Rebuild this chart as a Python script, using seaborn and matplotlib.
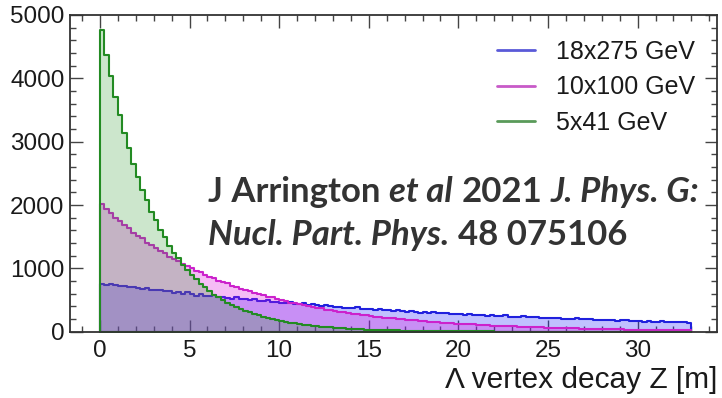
import numpy as np
import pandas as pd
import matplotlib
matplotlib.use("Agg")
import matplotlib.pyplot as plt
from matplotlib.lines import Line2D
from matplotlib.ticker import MultipleLocator
from matplotlib.colors import to_rgba
import seaborn as sns

# Lambda decay-vertex Z distributions, 0.25 m bins from 0 to 33 m
z_min, z_max, bin_width = 0.0, 33.0, 0.25

counts_18x275 = [
    758, 741, 749, 732, 716, 728, 703, 711, 684, 669, 690, 662,
    651, 664, 637, 648, 612, 629, 603, 621, 590, 571, 598, 566,
    561, 579, 547, 553, 534, 521, 541, 512, 509, 497, 515, 488,
    481, 493, 466, 474, 461, 448, 470, 441, 438, 452, 427, 432,
    418, 405, 421, 399, 396, 384, 379, 368, 381, 392, 366, 359,
    356, 347, 361, 340, 338, 329, 342, 321, 318, 325, 309, 302,
    306, 296, 311, 291, 289, 297, 281, 284, 278, 269, 281, 264,
    263, 271, 255, 258, 251, 243, 256, 238, 239, 231, 244, 228,
    226, 234, 219, 221, 216, 209, 220, 204, 206, 199, 210, 196,
    195, 202, 189, 191, 186, 179, 190, 176, 177, 183, 170, 172,
    168, 161, 172, 158, 160, 166, 154, 157, 152, 146, 155, 143,
]

counts_10x100 = [
    2012, 1941, 1873, 1795, 1752, 1677, 1631, 1560, 1509, 1472, 1405, 1371,
    1326, 1268, 1238, 1181, 1141, 1116, 1064, 1040, 1006, 958, 938, 893,
    864, 847, 806, 790, 762, 725, 712, 676, 653, 642, 609, 598,
    578, 548, 540, 511, 494, 487, 461, 454, 438, 415, 409, 387,
    374, 369, 349, 344, 332, 314, 310, 293, 283, 279, 264, 260,
    252, 238, 235, 221, 214, 212, 200, 197, 191, 181, 178, 168,
    162, 160, 151, 149, 145, 136, 134, 127, 123, 122, 115, 114,
    110, 103, 102, 96, 93, 92, 87, 86, 83, 78, 77, 73,
    72, 68, 67, 63, 61, 60, 57, 56, 55, 51, 51, 48,
    46, 46, 43, 42, 41, 39, 39, 36, 37, 34, 34, 32,
    31, 30, 29, 28, 28, 26, 25, 24, 24, 23, 22, 21,
]

counts_5x41 = [
    4765, 4372, 4041, 3698, 3418, 3131, 2897, 2644, 2447, 2239, 2078, 1893,
    1756, 1602, 1488, 1354, 1246, 1157, 1053, 980, 891, 831, 754, 702,
    646, 586, 549, 497, 457, 427, 386, 361, 328, 306, 277, 259,
    238, 215, 202, 182, 171, 154, 145, 130, 122, 110, 103, 93,
    86, 81, 72, 68, 63, 56, 53, 47, 45, 40, 38, 34,
    31, 30, 26, 25, 23, 21, 20, 17, 16, 15, 13, 13,
    12, 11, 10, 9, 8, 8, 7, 7, 6, 6, 5, 5,
    5, 4, 4, 4, 3, 3, 3, 3, 3, 2, 2, 2,
    2, 2, 2, 1, 1, 1, 1, 1, 1, 1, 1, 1,
    1, 1, 0, 1, 0, 1, 0, 0, 0, 0, 1, 0,
    0, 0, 0, 0, 0, 0, 0, 0, 0, 0, 0, 0,
]

series_labels = ["18x275 GeV", "10x100 GeV", "5x41 GeV"]
line_colors = ["#2020dd", "#cc22cc", "#238b23"]
fill_colors = ["#3030ff", "#dd11dd", "#2a9a2a"]
fill_alphas = [0.30, 0.28, 0.24]
legend_colors = ["#5a5ad8", "#c85ac8", "#5a9a5a"]

x_label = "\u039b vertex decay Z [m]"

edges = np.arange(z_min, z_max + bin_width / 2, bin_width)
centers = 0.5 * (edges[:-1] + edges[1:])

sns.set_theme(style="white")
plt.rcParams["font.family"] = ["Liberation Sans", "DejaVu Sans"]

fig = plt.figure(figsize=(7.22, 3.98), dpi=100)
ax = fig.add_axes([70 / 722, 1 - 331.7 / 398, 647 / 722, 316.7 / 398])

for counts, lc, fc, fa in zip([counts_18x275, counts_10x100, counts_5x41],
                              line_colors, fill_colors, fill_alphas):
    frame = pd.DataFrame({"z": centers, "n": counts})
    sns.histplot(data=frame, x="z", weights="n", binwidth=bin_width,
                 binrange=(z_min, z_max), element="step",
                 fill=True, facecolor=to_rgba(fc, fa), edgecolor=lc,
                 linewidth=1.5, ax=ax)

ax.set_xlim(-1.67, 34.43)
ax.set_ylim(0, 5000)
ax.set_ylabel("")
ax.xaxis.set_major_locator(MultipleLocator(5))
ax.xaxis.set_minor_locator(MultipleLocator(1))
ax.yaxis.set_major_locator(MultipleLocator(1000))
ax.yaxis.set_minor_locator(MultipleLocator(200))
ax.tick_params(which="both", direction="in", top=True, right=True,
               bottom=True, left=True, color="#444444", width=1.0)
ax.tick_params(which="major", length=9)
ax.tick_params(which="minor", length=4.5)
ax.tick_params(axis="x", which="major", labelsize=17.5, pad=6,
               labelcolor="#1a1a1a")
ax.tick_params(axis="y", which="major", labelsize=17.5, pad=4,
               labelcolor="#1a1a1a")
for sp in ax.spines.values():
    sp.set_color("#333333")
    sp.set_linewidth(1.3)

ax.set_xlabel(x_label, fontsize=21.5, color="#1a1a1a")
ax.xaxis.set_label_coords(1.0, -(388.3 - 331.7) / 316.7)
ax.xaxis.label.set_ha("right")
ax.xaxis.label.set_va("baseline")

handles = [Line2D([], [], color=c, lw=2.0) for c in legend_colors]
ax.legend(handles, series_labels, loc="upper left",
          bbox_to_anchor=(497 / 722, 1 - 40 / 398),
          bbox_transform=fig.transFigure, frameon=False, fontsize=18,
          handlelength=1.5, handletextpad=0.85, labelspacing=0.46,
          borderpad=0, borderaxespad=0, labelcolor="#1a1a1a")

# Citation in two lines of mixed bold / bold-italic runs
cite_lines = [
    [("J Arrington", "normal"), ("et al", "italic"), ("2021", "normal"),
     ("J. Phys. G:", "italic")],
    [("Nucl. Part. Phys.", "italic"), ("48 075106", "normal")],
]
cite_baselines = [201.7, 245.0]
cite_left = 208.0
cite_target_width = 419.0
cite_family = "Lato"
cite_color = "#333333"

renderer = fig.canvas.get_renderer()


def run_width(text, style, size):
    t = fig.text(0, 0, text, fontsize=size, fontweight="bold",
                 fontstyle=style, family=cite_family)
    w = t.get_window_extent(renderer).width
    t.remove()
    return w


def line_width(runs, size):
    space = run_width("a a", "normal", size) - run_width("aa", "normal", size)
    return sum(run_width(s, st, size) for s, st in runs) + space * (len(runs) - 1), space


base_size = 20.0
w2, _ = line_width(cite_lines[1], base_size)
cite_size = base_size * cite_target_width / w2

for runs, base in zip(cite_lines, cite_baselines):
    _, space = line_width(runs, cite_size)
    x = cite_left
    for s, st in runs:
        t = fig.text(x / 722, 1 - base / 398, s, fontsize=cite_size,
                     fontweight="bold", fontstyle=st, family=cite_family,
                     color=cite_color, va="baseline", ha="left")
        x += t.get_window_extent(renderer).width + space

fig.savefig("out.png", dpi=100)
